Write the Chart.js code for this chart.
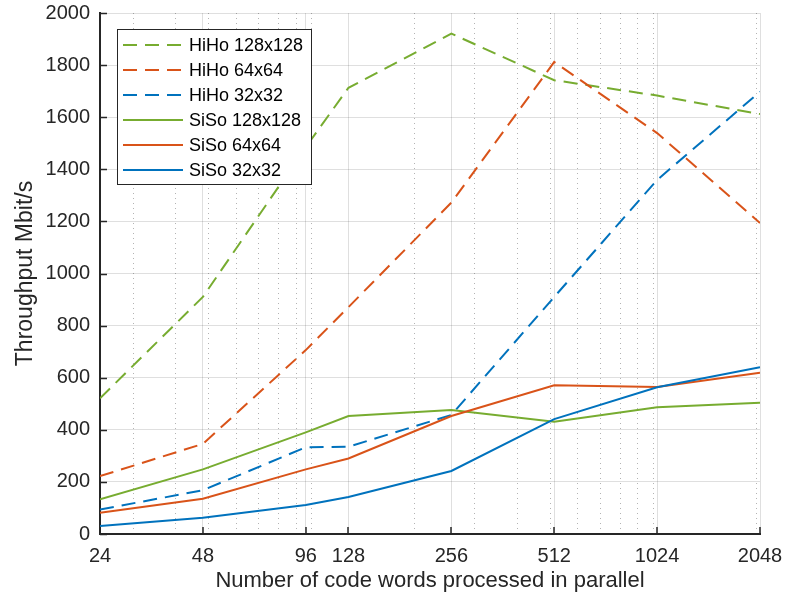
<!DOCTYPE html>
<html>
<head>
<meta charset="utf-8">
<script src="https://cdn.jsdelivr.net/npm/chart.js@4.4.1/dist/chart.umd.min.js"></script>
<style>
  html, body { margin: 0; padding: 0; background: #ffffff; }
  canvas { display: block; }
</style>
</head>
<body>
<canvas id="c" width="798" height="599"></canvas>
<script>
// ---------- data ----------
const codeWords = [24, 48, 96, 128, 256, 512, 1024, 2048];
const xTickLabels = [24, 48, 96, 128, 256, 512, 1024, 2048];
const xMinorGrid = [30, 40, 50, 60, 70, 80, 90, 100, 200, 300, 400, 500, 600, 700, 800, 900, 1000, 2000];
const yTickValues = [0, 200, 400, 600, 800, 1000, 1200, 1400, 1600, 1800, 2000];

const seriesLabels = ['HiHo 128x128', 'HiHo 64x64', 'HiHo 32x32', 'SiSo 128x128', 'SiSo 64x64', 'SiSo 32x32'];
const hiho128 = [521, 910, 1485, 1713, 1921, 1742, 1683, 1612];
const hiho64  = [222, 346, 706, 871, 1272, 1812, 1539, 1194];
const hiho32  = [94, 168, 333, 335, 457, 910, 1359, 1698];
const siso128 = [133, 248, 390, 453, 476, 431, 487, 504];
const siso64  = [82, 135, 248, 290, 453, 571, 564, 619];
const siso32  = [31, 62, 111, 142, 242, 441, 563, 640];

// ---------- styles ----------
const GREEN = '#77AC30', ORANGE = '#D95319', BLUE = '#0072BD';
const AXIS = '#262626';
const DASH = [14, 8];
const FONT = "'Liberation Sans', Arial, Helvetica, sans-serif";

const seriesValues = [hiho128, hiho64, hiho32, siso128, siso64, siso32];
const seriesColors = [GREEN, ORANGE, BLUE, GREEN, ORANGE, BLUE];
const seriesDashed = [true, true, true, false, false, false];

const datasets = seriesValues.map((vals, i) => ({
  label: seriesLabels[i],
  data: codeWords.map((x, j) => ({ x: x, y: vals[j] })),
  borderColor: seriesColors[i],
  backgroundColor: seriesColors[i],
  borderWidth: 2,
  borderDash: seriesDashed[i] ? DASH : [],
  pointRadius: 0,
  tension: 0,
  fill: false,
  order: seriesValues.length - 1 - i
}));

// inward tick marks
const innerTicks = {
  id: 'innerTicks',
  afterDraw(chart) {
    const ctx = chart.ctx;
    const area = chart.chartArea;
    const xs = chart.scales.x, ys = chart.scales.y;
    ctx.save();
    ctx.strokeStyle = AXIS;
    ctx.lineWidth = 1.5;
    ctx.setLineDash([]);
    ctx.beginPath();
    yTickValues.forEach(v => {
      const py = Math.round(ys.getPixelForValue(v)) + 0.5;
      ctx.moveTo(area.left, py);
      ctx.lineTo(area.left + 7, py);
    });
    xTickLabels.forEach(v => {
      const px = Math.round(xs.getPixelForValue(v));
      ctx.moveTo(px, area.bottom);
      ctx.lineTo(px, area.bottom - 7);
    });
    ctx.stroke();
    ctx.restore();
  }
};

// boxed legend inside the axes
const boxLegend = {
  id: 'boxLegend',
  afterDraw(chart) {
    const ctx = chart.ctx;
    const area = chart.chartArea;
    const bx = area.left + 17, by = area.top + 16, bw = 194, bh = 155;
    ctx.save();
    ctx.setLineDash([]);
    ctx.fillStyle = '#ffffff';
    ctx.fillRect(bx, by, bw, bh);
    ctx.strokeStyle = AXIS;
    ctx.lineWidth = 1;
    ctx.strokeRect(bx + 0.5, by + 0.5, bw, bh);
    ctx.font = '18px ' + FONT;
    ctx.textBaseline = 'middle';
    ctx.textAlign = 'left';
    chart.data.datasets.forEach((ds, i) => {
      const y = by + 16 + i * 25;
      ctx.strokeStyle = ds.borderColor;
      ctx.lineWidth = ds.borderWidth;
      ctx.setLineDash(ds.borderDash);
      ctx.beginPath();
      ctx.moveTo(bx + 6, y);
      ctx.lineTo(bx + 66, y);
      ctx.stroke();
      ctx.setLineDash([]);
      ctx.fillStyle = '#000000';
      ctx.fillText(ds.label, bx + 72, y + 1);
    });
    ctx.restore();
  }
};

const zeroPad = s => { s.paddingTop = 0; s.paddingBottom = 0; s.paddingLeft = 0; s.paddingRight = 0; };

new Chart(document.getElementById('c'), {
  type: 'line',
  data: { datasets: datasets },
  options: {
    responsive: false,
    animation: false,
    devicePixelRatio: 1,
    layout: { padding: { left: 0, right: 38, top: 13, bottom: 0 } },
    plugins: { legend: { display: false }, tooltip: { enabled: false } },
    scales: {
      x: {
        type: 'logarithmic',
        position: 'bottom',
        min: 24, max: 2048,
        weight: 1,
        afterBuildTicks: s => { s.ticks = xTickLabels.map(v => ({ value: v })); },
        afterFit: s => { s.height = 65; zeroPad(s); },
        ticks: {
          autoSkip: false, maxRotation: 0, padding: 10,
          color: AXIS, font: { family: FONT, size: 20 },
          callback: v => String(v)
        },
        grid: { color: 'rgba(38,38,38,0.15)', lineWidth: 1, drawTicks: false },
        border: { display: true, color: AXIS, width: 2 },
        title: {
          display: true, text: 'Number of code words processed in parallel',
          color: AXIS, font: { family: FONT, size: 22 }, padding: { top: 0, bottom: 5 }
        }
      },
      x2: {
        type: 'logarithmic',
        position: 'bottom',
        min: 24, max: 2048,
        weight: 0,
        afterBuildTicks: s => { s.ticks = xMinorGrid.map(v => ({ value: v })); },
        afterFit: s => { s.height = 0; zeroPad(s); },
        ticks: { display: false },
        grid: { color: 'rgba(38,38,38,0.35)', lineWidth: 1, drawTicks: false },
        border: { display: false, dash: [1, 4] }
      },
      y: {
        type: 'linear',
        min: 0, max: 2000,
        afterBuildTicks: s => { s.ticks = yTickValues.map(v => ({ value: v })); },
        afterFit: s => { s.width = 100; zeroPad(s); },
        ticks: {
          padding: 10, color: AXIS, font: { family: FONT, size: 20 },
          callback: v => String(v)
        },
        grid: { color: 'rgba(38,38,38,0.15)', lineWidth: 1, drawTicks: false },
        border: { display: true, color: AXIS, width: 2 },
        title: {
          display: true, text: 'Throughput Mbit/s',
          color: AXIS, font: { family: FONT, size: 23 }, padding: { top: 12, bottom: 0 }
        }
      }
    }
  },
  plugins: [innerTicks, boxLegend]
});
</script>
</body>
</html>
